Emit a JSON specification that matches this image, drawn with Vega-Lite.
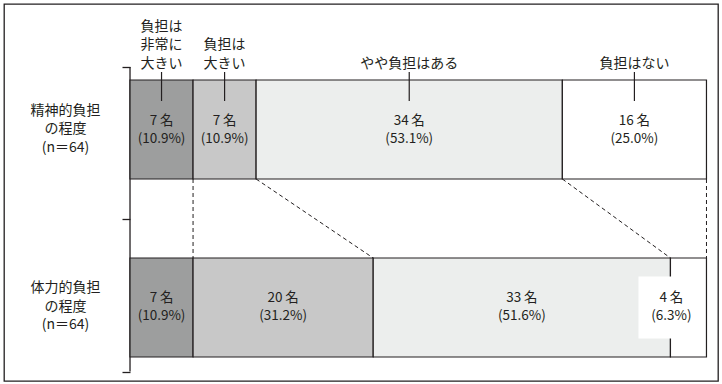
{
  "$schema": "https://vega.github.io/schema/vega-lite/v6.json",
  "width": 714,
  "height": 377,
  "autosize": {"type": "none"},
  "padding": {"left": 4, "top": 4, "right": 4, "bottom": 3},
  "background": "white",
  "config": {
    "view": {"stroke": "#231f20", "strokeWidth": 1.3},
    "font": "Noto Sans CJK JP",
    "axis": {"labelFont": "Noto Sans CJK JP", "grid": false},
    "text": {"font": "Noto Sans CJK JP", "color": "#231f20"}
  },
  "resolve": {"scale": {"y": "independent"}, "axis": {"y": "independent"}},
  "layer": [
    {
      "data": {"values": [{"from": "精神的負担\nの程度\n(n＝64)", "to": "体力的負担\nの程度\n(n＝64)"}]},
      "mark": {"type": "rule", "color": "#231f20", "strokeWidth": 1.3},
      "encoding": {
        "x": {"datum": 0, "type": "quantitative", "scale": {"domain": [-13.99, 65.28], "nice": false, "zero": false}, "axis": null},
        "y": {
          "field": "from", "type": "nominal", "bandPosition": 0,
          "scale": {"domain": ["精神的負担\nの程度\n(n＝64)", "体力的負担\nの程度\n(n＝64)"], "paddingInner": 0, "paddingOuter": 0.2381, "align": 0.869},
          "axis": {"orient": "left", "offset": -126, "labels": false, "domain": false, "grid": false, "tickBand": "extent", "tickSize": 8, "tickColor": "#231f20", "tickWidth": 1.3, "title": null}
        },
        "y2": {"field": "to", "bandPosition": 1}
      }
    },
    {
      "data": {"values": [
        {"row": "精神的負担\nの程度\n(n＝64)", "cat": "負担は\n非常に\n大きい", "k": 1, "n": 7, "pct": 10.9},
        {"row": "精神的負担\nの程度\n(n＝64)", "cat": "負担は\n大きい", "k": 2, "n": 7, "pct": 10.9},
        {"row": "精神的負担\nの程度\n(n＝64)", "cat": "やや負担はある", "k": 3, "n": 34, "pct": 53.1},
        {"row": "精神的負担\nの程度\n(n＝64)", "cat": "負担はない", "k": 4, "n": 16, "pct": 25.0},
        {"row": "体力的負担\nの程度\n(n＝64)", "cat": "負担は\n非常に\n大きい", "k": 1, "n": 7, "pct": 10.9},
        {"row": "体力的負担\nの程度\n(n＝64)", "cat": "負担は\n大きい", "k": 2, "n": 20, "pct": 31.2},
        {"row": "体力的負担\nの程度\n(n＝64)", "cat": "やや負担はある", "k": 3, "n": 33, "pct": 51.6},
        {"row": "体力的負担\nの程度\n(n＝64)", "cat": "負担はない", "k": 4, "n": 4, "pct": 6.3}
      ]},
      "transform": [
        {"stack": "n", "groupby": ["row"], "sort": [{"field": "k", "order": "ascending"}], "as": ["x0", "x1"]},
        {"calculate": "(datum.x0 + datum.x1) / 2", "as": "mid"},
        {"calculate": "[datum.n + '\u2009名', '(' + format(datum.pct, '.1f') + '%)']", "as": "lab"},
        {"calculate": "split(datum.cat, '\\n')", "as": "catlines"}
      ],
      "layer": [
        {
          "mark": {"type": "bar", "stroke": "#231f20", "strokeWidth": 1.2},
          "encoding": {
            "x": {"field": "x0", "type": "quantitative", "scale": {"domain": [-13.99, 65.28], "nice": false, "zero": false}, "axis": null},
            "x2": {"field": "x1"},
            "y": {
              "field": "row", "type": "nominal",
              "scale": {"domain": ["精神的負担\nの程度\n(n＝64)", "体力的負担\nの程度\n(n＝64)"], "paddingInner": 0.4438, "paddingOuter": 0.2809, "align": 0.76},
              "axis": {"orient": "left", "offset": -126, "ticks": false, "tickSize": 0, "domain": false, "grid": false, "title": null,
                       "labelExpr": "split(datum.label, '\\n')", "labelAlign": "center", "labelBaseline": "middle",
                       "labelOffset": -19, "labelPadding": 65, "labelFontSize": 14, "labelLineHeight": 18.5, "labelColor": "#231f20"}
            },
            "color": {"field": "cat", "type": "nominal",
                      "scale": {"domain": ["負担は\n非常に\n大きい", "負担は\n大きい", "やや負担はある", "負担はない"], "range": ["#9d9e9e", "#c8c8c8", "#eceeed", "#ffffff"]},
                      "legend": null}
          }
        },
        {
          "transform": [{"filter": "indexof(datum.row, '体力') === 0 && datum.k === 4"}],
          "mark": {"type": "point", "shape": "M-1,-0.94H1V0.94H-1Z", "filled": true, "fill": "#ffffff", "opacity": 1, "fillOpacity": 1, "strokeWidth": 0, "size": 4356, "xOffset": -17},
          "encoding": {
            "x": {"field": "mid", "type": "quantitative"},
            "y": {"field": "row", "type": "nominal"}
          }
        },
        {
          "transform": [{"filter": "!(indexof(datum.row, '体力') === 0 && datum.k === 4)"}],
          "mark": {"type": "text", "fontSize": 13.5, "lineHeight": 18, "baseline": "middle", "align": "center", "dy": -9, "color": "#231f20"},
          "encoding": {
            "x": {"field": "mid", "type": "quantitative"},
            "y": {"field": "row", "type": "nominal"},
            "text": {"field": "lab"}
          }
        },
        {
          "transform": [{"filter": "indexof(datum.row, '体力') === 0 && datum.k === 4"}],
          "mark": {"type": "text", "fontSize": 13.5, "lineHeight": 18, "baseline": "middle", "align": "center", "dy": -9, "color": "#231f20", "xOffset": -17},
          "encoding": {
            "x": {"field": "mid", "type": "quantitative"},
            "y": {"field": "row", "type": "nominal"},
            "text": {"field": "lab"}
          }
        },
        {
          "transform": [{"filter": "indexof(datum.row, '精神') === 0 && datum.k === 1"}],
          "mark": {"type": "text", "fontSize": 14, "lineHeight": 18.5, "baseline": "bottom", "align": "center", "dy": -46, "color": "#231f20"},
          "encoding": {
            "x": {"field": "mid", "type": "quantitative"},
            "y": {"field": "row", "type": "nominal", "bandPosition": 0},
            "text": {"field": "catlines"}
          }
        },
        {
          "transform": [{"filter": "indexof(datum.row, '精神') === 0 && datum.k === 2"}],
          "mark": {"type": "text", "fontSize": 14, "lineHeight": 18.5, "baseline": "bottom", "align": "center", "dy": -27.5, "color": "#231f20"},
          "encoding": {
            "x": {"field": "mid", "type": "quantitative"},
            "y": {"field": "row", "type": "nominal", "bandPosition": 0},
            "text": {"field": "catlines"}
          }
        },
        {
          "transform": [{"filter": "indexof(datum.row, '精神') === 0 && datum.k >= 3"}],
          "mark": {"type": "text", "fontSize": 14, "lineHeight": 18.5, "baseline": "bottom", "align": "center", "dy": -9, "color": "#231f20"},
          "encoding": {
            "x": {"field": "mid", "type": "quantitative"},
            "y": {"field": "row", "type": "nominal", "bandPosition": 0},
            "text": {"field": "catlines"}
          }
        },
        {
          "transform": [{"filter": "indexof(datum.row, '精神') === 0"}],
          "mark": {"type": "rule", "color": "#231f20", "strokeWidth": 1.2, "yOffset": -8, "y2Offset": 21},
          "encoding": {
            "x": {"field": "mid", "type": "quantitative"},
            "y": {"field": "row", "type": "nominal", "bandPosition": 0},
            "y2": {"field": "row", "bandPosition": 0}
          }
        },
        {
          "data": {"values": [
            {"a": 7, "b": 7},
            {"a": 14, "b": 27},
            {"a": 48, "b": 60},
            {"a": 64, "b": 64}
          ]},
          "mark": {"type": "rule", "color": "#231f20", "strokeWidth": 1, "strokeDash": [4, 3]},
          "encoding": {
            "x": {"field": "a", "type": "quantitative"},
            "x2": {"field": "b"},
            "y": {"datum": "精神的負担\nの程度\n(n＝64)", "type": "nominal", "bandPosition": 1},
            "y2": {"datum": "体力的負担\nの程度\n(n＝64)", "bandPosition": 0}
          }
        }
      ]
    }
  ]
}
